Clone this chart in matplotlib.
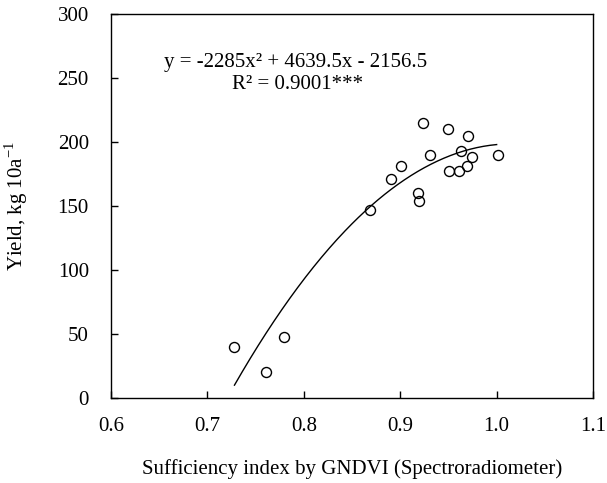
import numpy as np
import matplotlib
matplotlib.use("Agg")
import matplotlib.pyplot as plt

plt.rcParams["font.family"] = ["Liberation Serif", "DejaVu Serif"]
plt.rcParams["mathtext.fontset"] = "custom"
plt.rcParams["mathtext.rm"] = "Liberation Serif"

# observed points: sufficiency index vs yield
si = [0.728, 0.761, 0.779, 0.869, 0.890, 0.901, 0.918, 0.919, 0.924,
      0.931, 0.950, 0.951, 0.961, 0.963, 0.969, 0.970, 0.974, 1.001]
yld = [40, 20, 48, 147, 171, 181, 160, 154, 215,
       190, 210, 177, 177, 193, 181, 205, 188, 190]

# quadratic fit coefficients (from the chart equation)
a, b, c = -2285, 4639.5, -2156.5
fit_x = np.linspace(0.728, 1.0, 200)
fit_y = a * fit_x**2 + b * fit_x + c

FS = 15

fig = plt.figure(figsize=(6.07, 4.83), dpi=100)
ax = fig.add_axes([0.183, 0.176, 0.794, 0.795])

ax.plot(fit_x, fit_y, color="black", linewidth=1.0)
ax.plot(si, yld, "o", markersize=7.2, markerfacecolor="none",
        markeredgecolor="black", markeredgewidth=1.0)

ax.set_xlim(0.6, 1.1)
ax.set_ylim(0, 300)
ax.set_xticks([0.6, 0.7, 0.8, 0.9, 1.0, 1.1])
ax.set_xticklabels(["0.6", "0.7", "0.8", "0.9", "1.0", "1.1"])
ax.set_yticks(range(0, 301, 50))
ax.tick_params(direction="in", length=5, width=1, labelsize=FS)
ax.tick_params(axis="x", pad=14)
ax.tick_params(axis="y", pad=16)
for s in ax.spines.values():
    s.set_linewidth(1.0)

ax.set_xlabel("Sufficiency index by GNDVI (Spectroradiometer)", fontsize=FS, labelpad=16)
ax.set_ylabel("Yield, kg 10a$^{\\mathregular{-1}}$", fontsize=FS, labelpad=20)

ax.text(0.655, 262, "y = -2285x² + 4639.5x - 2156.5", fontsize=FS, ha="left", va="center")
ax.text(0.725, 245, "R² = 0.9001***", fontsize=FS, ha="left", va="center")

fig.savefig("out.png", dpi=100)
